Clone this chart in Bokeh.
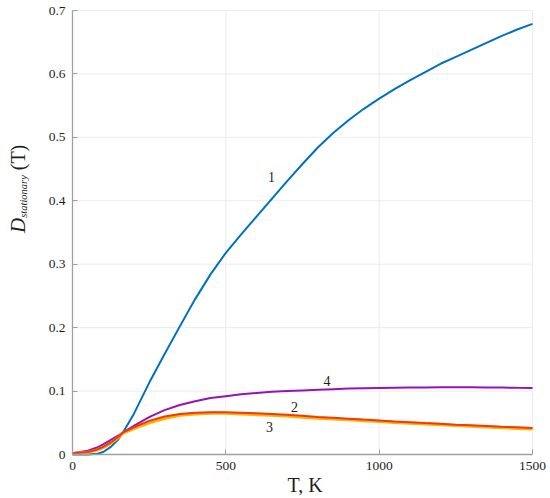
import numpy as np
from bokeh.plotting import figure
from bokeh.models import Range1d, FixedTicker, Label
from bokeh.embed import file_html
from bokeh.resources import INLINE

# ---- data ----
T = [0, 50, 80, 100, 125, 150, 165, 200, 250, 300, 350, 400, 450, 500, 550, 600, 650,
     700, 750, 800, 850, 900, 950, 1000, 1050, 1100, 1150, 1200, 1250, 1300, 1350,
     1400, 1450, 1500]
curve1 = [0.0, 0.0, 0.001, 0.004, 0.012, 0.024, 0.035, 0.064, 0.113, 0.158, 0.202, 0.245,
          0.284, 0.318, 0.347, 0.375, 0.403, 0.431, 0.458, 0.484, 0.507, 0.527, 0.545,
          0.561, 0.576, 0.590, 0.603, 0.616, 0.627, 0.638, 0.649, 0.660, 0.670, 0.679]
curve4 = [0.002, 0.006, 0.011, 0.016, 0.023, 0.030, 0.035, 0.045, 0.059, 0.070, 0.078,
          0.084, 0.089, 0.092, 0.095, 0.097, 0.099, 0.100, 0.101, 0.102, 0.103, 0.104,
          0.1045, 0.105, 0.1053, 0.1056, 0.1058, 0.106, 0.106, 0.106, 0.1058, 0.1055,
          0.1052, 0.105]
curve2 = [0.002, 0.004, 0.008, 0.012, 0.019, 0.028, 0.035, 0.043, 0.053, 0.060, 0.064,
          0.066, 0.0668, 0.0668, 0.066, 0.065, 0.064, 0.0625, 0.061, 0.059, 0.058, 0.0565,
          0.055, 0.0537, 0.052, 0.051, 0.0497, 0.0485, 0.047, 0.046, 0.045, 0.0438,
          0.0428, 0.0418]
curve3 = [0.0015, 0.0035, 0.007, 0.011, 0.018, 0.027, 0.034, 0.041, 0.050, 0.057, 0.062,
          0.064, 0.065, 0.065, 0.064, 0.063, 0.062, 0.0607, 0.059, 0.0573, 0.056, 0.0548,
          0.0535, 0.052, 0.0507, 0.0494, 0.0482, 0.047, 0.0457, 0.0445, 0.0434, 0.0423,
          0.0413, 0.0403]

x_ticks = [0, 500, 1000, 1500]
x_tick_labels = ["0", "500", "1000", "1500"]
y_ticks = [0, 0.1, 0.2, 0.3, 0.4, 0.5, 0.6, 0.7]
y_tick_labels = ["0", "0.1", "0.2", "0.3", "0.4", "0.5", "0.6", "0.7"]

curve_labels = ["1", "2", "3", "4"]
curve_label_T = [649, 724, 642, 830]
curve_label_D = [0.438, 0.0746, 0.043, 0.1156]

FONT = "Liberation Serif"
INK = "#1e1e1e"

# page-pixel layout of the reference: T=0 at x=72, T=1500 at x=532; D=0 at y=454, D=0.7 at y=10
W, H = 548, 495
SX = 460 / 1500.0
SY = 444 / 0.7


def px_to_data(px, py):
    return (px - 72) / SX, (454 - py) / SY


x0, y1 = px_to_data(0, 0)
x1, y0 = px_to_data(W, H)

p = figure(width=W, height=H, output_backend="svg", toolbar_location=None,
           x_range=Range1d(x0, x1), y_range=Range1d(y0, y1),
           min_border_left=0, min_border_right=0, min_border_top=0, min_border_bottom=0)
p.outline_line_color = None
p.background_fill_color = "white"
p.border_fill_color = "white"
p.xgrid.visible = False
p.ygrid.visible = False

# grid lines within the data area, from the tick arrays
x_lo, x_hi = x_ticks[0], x_ticks[-1]
y_lo, y_hi = y_ticks[0], y_ticks[-1]
p.segment(x0=[x_lo] * len(y_ticks[1:]), x1=[x_hi] * len(y_ticks[1:]),
          y0=y_ticks[1:], y1=y_ticks[1:], line_color="#ebebeb", line_width=1)
p.segment(x0=x_ticks[1:], x1=x_ticks[1:], y0=[y_lo] * len(x_ticks[1:]),
          y1=[y_hi] * len(x_ticks[1:]), line_color="#ebebeb", line_width=1)

for ax in (p.xaxis[0], p.yaxis[0]):
    ax.fixed_location = 0
    ax.axis_line_color = "#a0a0a0"
    ax.axis_line_width = 1.3
    ax.major_tick_line_color = "#a0a0a0"
    ax.major_tick_in = 5
    ax.major_tick_out = 0
    ax.minor_tick_line_color = None
    ax.major_label_text_font = FONT
    ax.major_label_text_font_size = "13.5px"
    ax.major_label_text_color = INK

p.xaxis.bounds = (x_lo, x_hi)
p.yaxis.bounds = (y_lo, y_hi)
p.xaxis.ticker = FixedTicker(ticks=x_ticks)
p.yaxis.ticker = FixedTicker(ticks=y_ticks)
p.xaxis.major_label_overrides = dict(zip(x_ticks, x_tick_labels))
p.yaxis.major_label_overrides = dict(zip(y_ticks, y_tick_labels))
p.xaxis.major_label_standoff = 7
p.yaxis.major_label_standoff = 7

p.line(T, curve1, line_color="#0072BD", line_width=2)
p.line(T, curve4, line_color="#9414B4", line_width=2)
p.line(T, curve3, line_color="#FFB000", line_width=3.2)
p.line(T, curve2, line_color="#EE3A0C", line_width=2)

for t, tx, ty in zip(curve_labels, curve_label_T, curve_label_D):
    p.add_layout(Label(x=tx, y=ty, text=t, text_font=FONT, text_font_size="14px",
                       text_color=INK, text_align="center", text_baseline="middle"))

# axis titles
x, y = px_to_data(304.5, 484)
p.add_layout(Label(x=x, y=y, text="T, K", text_font=FONT, text_font_size="20px",
                   text_color=INK, text_align="center", text_baseline="middle"))
x, y = px_to_data(17.5, 225)
p.add_layout(Label(x=x, y=y, text="D", text_font=FONT, text_font_size="21px",
                   text_font_style="italic", angle=np.pi / 2, text_color=INK,
                   text_align="center", text_baseline="middle"))
x, y = px_to_data(22.5, 196)
p.add_layout(Label(x=x, y=y, text="stationary", text_font=FONT, text_font_size="10.5px",
                   text_font_style="italic", angle=np.pi / 2, text_color=INK,
                   text_align="center", text_baseline="middle"))
x, y = px_to_data(17.5, 157)
p.add_layout(Label(x=x, y=y, text="(T)", text_font=FONT, text_font_size="20px",
                   angle=np.pi / 2, text_color=INK,
                   text_align="center", text_baseline="middle"))

open("out.html", "w").write(file_html(p, INLINE))
